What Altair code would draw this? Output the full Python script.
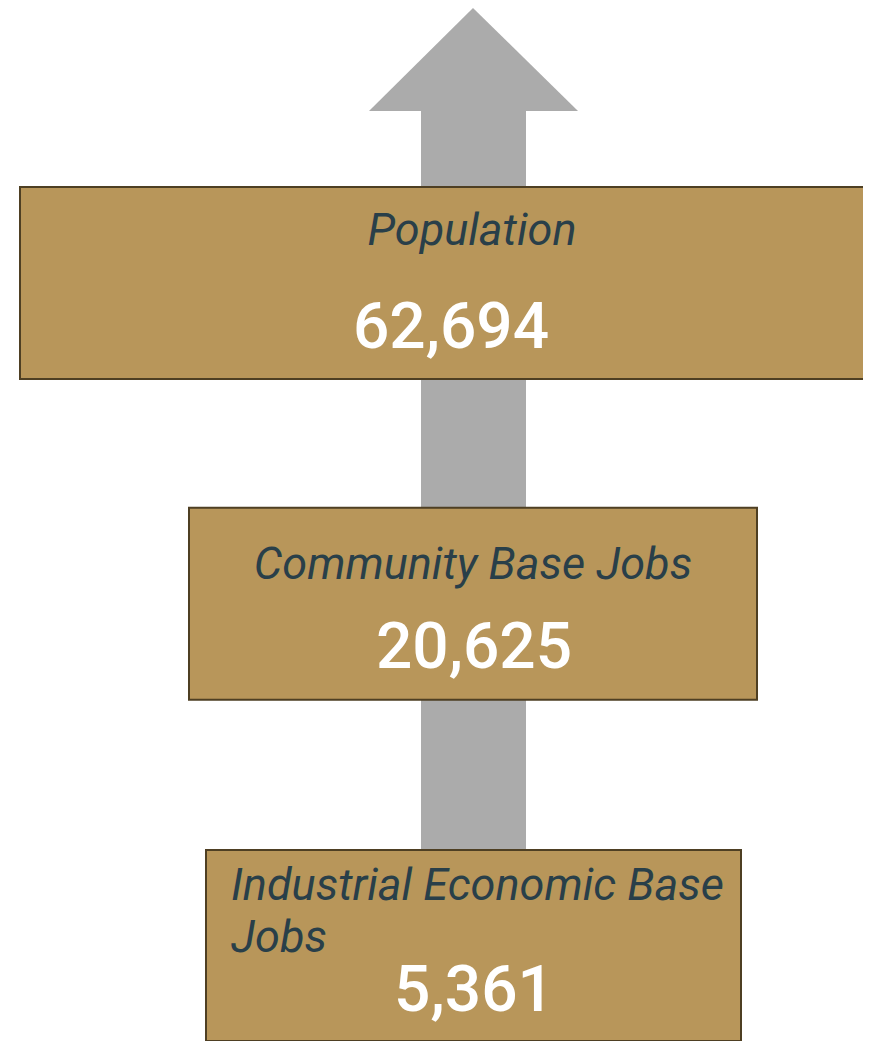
import altair as alt
import pandas as pd

# ---- content ----
labels = ["Population", "Community Base Jobs", "Industrial Economic Base Jobs"]
values = [62694, 20625, 5361]
label_lines = [["Population"], ["Community Base Jobs"], ["Industrial Economic Base", "Jobs"]]

# ---- layout (reference pixel space) ----
box_x0 = [20, 189, 206]
box_x1 = [884, 757, 741]
box_y0 = [184, 508, 854]
box_y1 = [378, 702, 1047]
label_x = [472, 473, 231]
label_y = [[243], [580], [905, 957]]
label_align = ["center", "center", "left"]
value_x = [451, 474, 474]
value_y = [347, 670, 1017]

head_x = [369, 473, 578]
head_top = [107, 3, 107]
head_base = [107, 107, 107]
shaft_x = [421, 526]
shaft_y = [107, 853]

FILL = "#b8965a"
BORDER = "#4e3f23"
ARROW = "#ababab"
LABEL = "#293f49"

xs = alt.Scale(domain=[8, 863], nice=False, zero=False)
ys = alt.Scale(domain=[3, 1047], nice=False, zero=False, reverse=True)

head = pd.DataFrame({"x": head_x, "top": head_top, "base": head_base})
shaft = pd.DataFrame({"x": [shaft_x[0]], "x2": [shaft_x[1]], "y": [shaft_y[0]], "y2": [shaft_y[1]]})
boxes = pd.DataFrame({"name": labels, "x": box_x0, "x2": box_x1, "y": box_y0, "y2": box_y1})

rows = []
for i, lines in enumerate(label_lines):
    for j, line in enumerate(lines):
        rows.append({"text": line, "x": label_x[i], "y": label_y[i][j], "align": label_align[i]})
lab = pd.DataFrame(rows)
vals = pd.DataFrame({"text": [f"{v:,}" for v in values], "x": value_x, "y": value_y})

head_layer = alt.Chart(head).mark_area(color=ARROW).encode(
    x=alt.X("x:Q", scale=xs, axis=None),
    y=alt.Y("top:Q", scale=ys, axis=None),
    y2="base:Q",
)
shaft_layer = alt.Chart(shaft).mark_rect(color=ARROW).encode(
    x=alt.X("x:Q", scale=xs, axis=None), x2="x2:Q",
    y=alt.Y("y:Q", scale=ys, axis=None), y2="y2:Q",
)
box_layer = alt.Chart(boxes).mark_rect(fill=FILL, stroke=BORDER, strokeWidth=2).encode(
    x=alt.X("x:Q", scale=xs, axis=None), x2="x2:Q",
    y=alt.Y("y:Q", scale=ys, axis=None), y2="y2:Q",
)

def text_layer(df, align, **kw):
    return alt.Chart(df).mark_text(align=align, baseline="alphabetic", **kw).encode(
        x=alt.X("x:Q", scale=xs, axis=None),
        y=alt.Y("y:Q", scale=ys, axis=None),
        text="text:N",
    )

lab_c = text_layer(lab[lab["align"] == "center"], "center", font="Roboto", fontStyle="italic",
                   fontSize=45, color=LABEL)
lab_l = text_layer(lab[lab["align"] == "left"], "left", font="Roboto", fontStyle="italic",
                   fontSize=45, color=LABEL)
val_layer = text_layer(vals, "center", font="Roboto", fontWeight=500, fontSize=64, color="white")

chart = alt.layer(shaft_layer, head_layer, box_layer, lab_c, lab_l, val_layer).properties(
    width=855, height=1033, padding=0, autosize=alt.AutoSizeParams(type="none")
).configure_view(stroke=None)

chart.save("out.html", embed_options={"renderer": "svg", "actions": False})
